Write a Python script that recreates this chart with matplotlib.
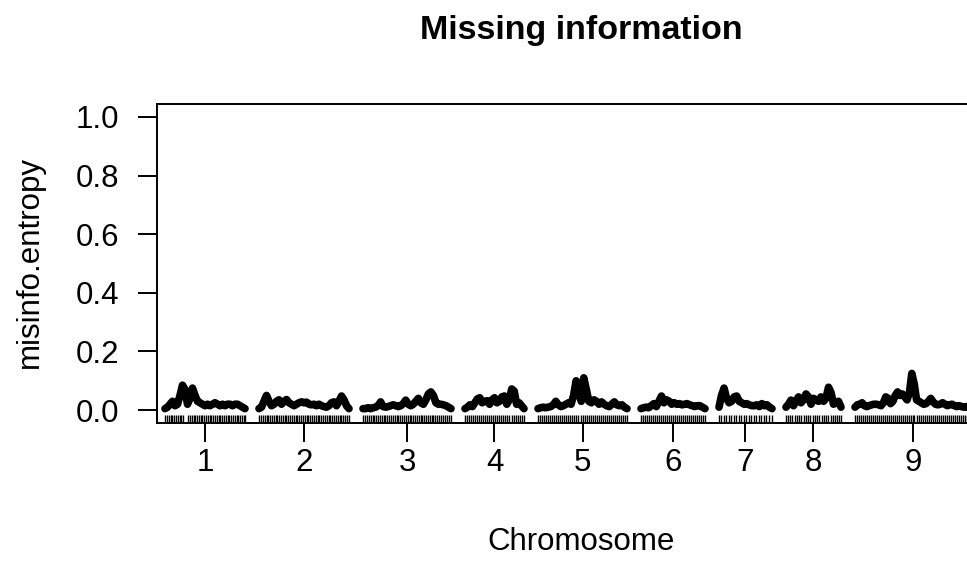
import numpy as np
import matplotlib
matplotlib.use("Agg")
import matplotlib.pyplot as plt
import matplotlib.transforms as mtransforms

plt.rcParams['font.family'] = ['Liberation Sans', 'DejaVu Sans']

# chromosome names and lengths (cM)
chroms = ['1', '2', '3', '4', '5', '6', '7', '8', '9']
chr_len = [80, 90, 88, 59, 89, 64, 53, 55, 116]
gap = 14

# misinfo.entropy along each chromosome (evenly spaced positions)
info = {
    '1': [0.005, 0.01, 0.02, 0.03, 0.015, 0.02, 0.05, 0.085, 0.07, 0.02, 0.04, 0.075,
          0.05, 0.03, 0.025, 0.02, 0.015, 0.02, 0.015, 0.02, 0.025, 0.02, 0.015, 0.02,
          0.015, 0.02, 0.02, 0.015, 0.02, 0.02, 0.015, 0.01, 0.005],
    '2': [0.005, 0.01, 0.03, 0.05, 0.03, 0.015, 0.02, 0.03, 0.035, 0.02, 0.03, 0.036,
          0.025, 0.02, 0.015, 0.02, 0.025, 0.028, 0.025, 0.027, 0.02, 0.018, 0.02, 0.015,
          0.02, 0.015, 0.012, 0.01, 0.015, 0.025, 0.028, 0.015, 0.03, 0.048, 0.035, 0.015,
          0.005],
    '3': [0.005, 0.005, 0.008, 0.005, 0.008, 0.01, 0.015, 0.028, 0.012, 0.01, 0.012, 0.015,
          0.018, 0.015, 0.012, 0.015, 0.022, 0.034, 0.02, 0.015, 0.02, 0.03, 0.04, 0.025,
          0.02, 0.035, 0.055, 0.062, 0.05, 0.025, 0.02, 0.02, 0.018, 0.015, 0.01, 0.005],
    '4': [0.005, 0.01, 0.018, 0.012, 0.025, 0.038, 0.042, 0.025, 0.03, 0.032, 0.02, 0.035,
          0.042, 0.025, 0.03, 0.045, 0.048, 0.02, 0.035, 0.072, 0.065, 0.02, 0.025, 0.015,
          0.005],
    '5': [0.005, 0.008, 0.01, 0.008, 0.01, 0.012, 0.018, 0.03, 0.018, 0.012, 0.015, 0.02,
          0.025, 0.02, 0.05, 0.1, 0.06, 0.03, 0.11, 0.07, 0.03, 0.025, 0.035, 0.03,
          0.02, 0.028, 0.02, 0.015, 0.012, 0.02, 0.028, 0.018, 0.015, 0.018, 0.01, 0.005],
    '6': [0.005, 0.008, 0.01, 0.008, 0.015, 0.022, 0.012, 0.03, 0.048, 0.025, 0.035, 0.03,
          0.02, 0.025, 0.02, 0.022, 0.018, 0.02, 0.022, 0.018, 0.015, 0.012, 0.015, 0.015,
          0.01, 0.005],
    '7': [0.01, 0.05, 0.075, 0.04, 0.025, 0.03, 0.045, 0.048, 0.03, 0.025, 0.02, 0.022,
          0.018, 0.015, 0.015, 0.018, 0.012, 0.022, 0.015, 0.018, 0.01, 0.005],
    '8': [0.01, 0.02, 0.034, 0.015, 0.03, 0.045, 0.025, 0.035, 0.055, 0.045, 0.02, 0.04,
          0.035, 0.03, 0.045, 0.03, 0.04, 0.078, 0.06, 0.02, 0.025, 0.03, 0.01],
    '9': [0.01, 0.018, 0.02, 0.025, 0.015, 0.012, 0.015, 0.018, 0.02, 0.02, 0.018, 0.015,
          0.025, 0.045, 0.04, 0.022, 0.03, 0.05, 0.062, 0.05, 0.055, 0.045, 0.035, 0.06,
          0.125, 0.09, 0.035, 0.03, 0.025, 0.02, 0.022, 0.03, 0.04, 0.028, 0.02, 0.018,
          0.02, 0.025, 0.02, 0.015, 0.018, 0.02, 0.015, 0.012, 0.015, 0.012, 0.01, 0.012,
          0.008, 0.005],
}

# marker positions (cM) for the rug
markers = {
    '1': [0, 2, 4, 5.5, 7, 9, 11, 13, 14.5, 16, 18, 23, 25, 27, 28.5, 30, 32, 34, 35.5, 37,
          39, 41, 43, 44.5, 46, 48, 50, 52, 53.5, 55, 57, 59, 61, 62.5, 64, 66, 68, 70,
          71.5, 73, 75, 77, 78.5, 80],
    '2': [0, 2, 4, 6, 7.5, 9, 11, 13, 15, 16.5, 18, 20, 22, 24, 25.5, 27, 29, 31, 33, 35,
          36.5, 38, 40, 42, 44, 46, 47.5, 49, 51, 53, 55, 57, 58.5, 60, 62, 64, 66, 68,
          69.5, 71, 73, 75, 77, 79, 80.5, 82, 84, 86, 88, 90],
    '3': [0, 2, 4, 6, 8, 9.5, 11, 13, 15, 17, 19, 20.5, 22, 24, 26, 28, 30, 32, 33.5, 35,
          37, 39, 41, 43, 45, 46.5, 48, 50, 52, 54, 56, 58, 59.5, 61, 63, 65, 67, 69,
          70.5, 72, 74, 76, 78, 80, 82, 84, 86, 88],
    '4': [0, 2, 4, 6, 8, 10, 12, 14, 16, 18, 20, 22, 24, 26, 28, 30, 32, 34, 36, 38, 40,
          42, 44, 47, 49, 51, 53, 55, 57, 59],
    '5': [0, 2, 4, 6, 8, 10, 12, 14, 16, 18, 20, 22, 24, 26, 28, 30, 32, 34, 36, 38, 40,
          43, 45, 47, 49, 51, 53, 55, 57, 59, 61, 63, 65, 67, 69, 71, 73, 75, 77, 79,
          81, 83, 85, 87, 89],
    '6': [0, 2, 4, 6, 8, 10, 12, 14, 16, 18, 20, 22, 24, 26, 28, 30, 32, 34, 36, 38, 40,
          42, 44, 46, 48, 50, 52, 54, 56, 58, 60, 62, 64],
    '7': [0, 2.5, 5, 7.5, 10, 12.5, 15, 17.5, 20, 22.5, 25, 27.5, 30, 32.5, 35, 37.5, 40,
          42.5, 45, 47.5, 50, 53],
    '8': [0, 2, 4, 6.5, 9, 11, 13, 15.5, 18, 20, 22, 24.5, 27, 29, 31, 33.5, 36, 38, 40,
          42.5, 45, 47, 49, 51.5, 53, 55],
    '9': [0, 2, 4, 6, 8, 10, 12, 14, 16, 18, 20, 22, 24, 26, 28, 30, 32, 34, 36, 38, 40,
          42, 44, 46, 48, 50, 52, 54, 56, 58, 59.5, 62, 64, 66, 68, 70, 72, 74, 76, 78,
          80, 82, 84, 86, 88, 90, 92, 94, 96, 98, 100, 102, 104, 106, 108, 110, 112, 114,
          116],
}

fig = plt.figure(figsize=(9.67, 5.73), dpi=100)
ax = fig.add_axes([157 / 967, 150 / 573, 849 / 967, 319 / 573])

rug_tr = mtransforms.blended_transform_factory(ax.transData, ax.transAxes)
starts = []
s = 0
for c, L in zip(chroms, chr_len):
    starts.append(s)
    vals = info[c]
    pos = np.linspace(0, L, len(vals))
    ax.plot(s + pos, vals, color='black', lw=5.5,
            solid_capstyle='round', solid_joinstyle='round')
    ax.vlines(s + np.array(markers[c]), 0, 0.024, color='black', lw=1.0,
              transform=rug_tr)
    s += L + gap

centers = [st + L / 2 for st, L in zip(starts, chr_len)]
ax.set_xticks(centers)
ax.set_xticklabels(chroms)
ax.set_yticks([0, 0.2, 0.4, 0.6, 0.8, 1.0])
ax.set_yticklabels(['0.0', '0.2', '0.4', '0.6', '0.8', '1.0'])
ax.set_xlim(-8, 841)
ax.set_ylim(-0.044, 1.044)

for sp in ax.spines.values():
    sp.set_linewidth(1.4)
ax.tick_params(axis='both', length=14, width=1.4, labelsize=22.5)
ax.tick_params(axis='y', pad=13)
ax.tick_params(axis='x', pad=4)

fig.text(581.5 / 967, 1 - 542 / 573, 'Chromosome', ha='center', va='center', fontsize=22.5)
fig.text(30 / 967, 1 - 262 / 573, 'misinfo.entropy', ha='center', va='center',
         rotation=90, fontsize=22.5)
fig.text(581.5 / 967, 1 - 30 / 573, 'Missing information', ha='center', va='center',
         fontsize=24.5, fontweight='bold')

fig.savefig('out.png', dpi=100)
